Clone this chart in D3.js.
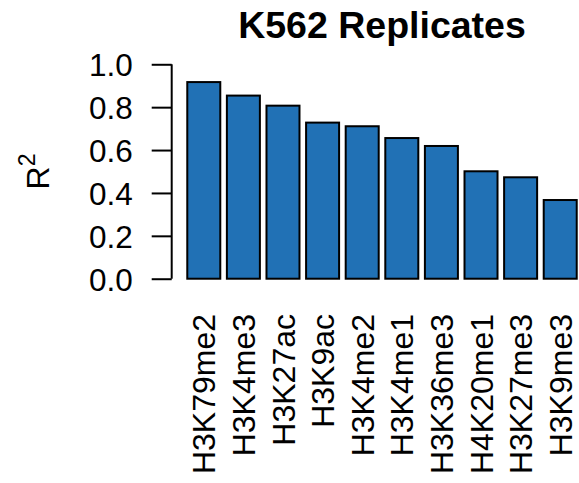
<!DOCTYPE html>
<html>
<head>
<meta charset="utf-8">
<script src="https://cdn.jsdelivr.net/npm/d3@7"></script>
<style>
  html, body { margin: 0; padding: 0; background: #fff; }
  svg { display: block; font-family: "Liberation Sans", Arial, Helvetica, sans-serif; }
</style>
</head>
<body>
<svg id="chart" width="579" height="483"></svg>
<script>
// Correlation between K562 replicates per histone mark
const marks = ["H3K79me2", "H3K4me3", "H3K27ac", "H3K9ac", "H3K4me2",
               "H3K4me1", "H3K36me3", "H4K20me1", "H3K27me3", "H3K9me3"];
const r2 = [0.917, 0.854, 0.807, 0.728, 0.711, 0.656, 0.619, 0.501, 0.473, 0.367];
const yTicks = [0, 0.2, 0.4, 0.6, 0.8, 1.0];

const svg = d3.select("#chart");
const barFill = "#2171b5";

// Plot region (barplot-style layout: bar width 1, spacing 0.2, 4% padding)
const plot = { left: 171.7, right: 592.3, top: 55.7, bottom: 287.3 };
const space = 0.2, barW = 1;
const xMin = space, xMax = marks.length * (barW + space);
const pad = 0.04 * (xMax - xMin);

const x = d3.scaleLinear()
  .domain([xMin - pad, xMax + pad])
  .range([plot.left, plot.right]);
const y = d3.scaleLinear()
  .domain([-0.04, 1.04])
  .range([plot.bottom, plot.top]);

const barLeft = i => space + i * (barW + space);

// Bars
svg.append("g")
  .selectAll("rect")
  .data(r2)
  .join("rect")
  .attr("x", (d, i) => x(barLeft(i)))
  .attr("width", (d, i) => x(barLeft(i) + barW) - x(barLeft(i)))
  .attr("y", d => y(d))
  .attr("height", d => y(0) - y(d))
  .attr("fill", barFill)
  .attr("stroke", "#000")
  .attr("stroke-width", 2);

// Y axis
const yAxis = d3.axisLeft(y)
  .tickValues(yTicks)
  .tickFormat(d3.format(".1f"))
  .tickSize(20)
  .tickPadding(19)
  .tickSizeOuter(0);

const gy = svg.append("g")
  .attr("transform", `translate(${plot.left},0)`)
  .call(yAxis);
gy.select(".domain")
  .attr("d", `M0,${y(0)}V${y(1)}`)
  .attr("stroke", "#000")
  .attr("stroke-width", 2);
gy.selectAll(".tick line").attr("stroke", "#000").attr("stroke-width", 2);
gy.selectAll(".tick text")
  .attr("font-size", 31.5)
  .attr("font-family", "Liberation Sans, Arial, sans-serif")
  .attr("fill", "#000")
  .attr("dy", "0.36em");

// Category labels, rotated perpendicular to the axis
svg.append("g")
  .selectAll("text")
  .data(marks)
  .join("text")
  .attr("transform", (d, i) =>
    `translate(${x(barLeft(i) + barW / 2)},314) rotate(-90)`)
  .attr("text-anchor", "end")
  .attr("dy", "0.36em")
  .attr("font-size", 32)
  .attr("fill", "#000")
  .text(d => d);

// Y axis title: R squared
const yLab = svg.append("text")
  .attr("transform", `translate(49,${(plot.top + plot.bottom) / 2}) rotate(-90)`)
  .attr("text-anchor", "middle")
  .attr("font-size", 32)
  .attr("fill", "#000");
yLab.append("tspan").text("R");
yLab.append("tspan").attr("font-size", 23).attr("dy", -14).text("2");

// Title
svg.append("text")
  .attr("x", (plot.left + plot.right) / 2)
  .attr("y", 37.7)
  .attr("text-anchor", "middle")
  .attr("font-size", 37.5)
  .attr("font-weight", "bold")
  .attr("fill", "#000")
  .text("K562 Replicates");
</script>
</body>
</html>
